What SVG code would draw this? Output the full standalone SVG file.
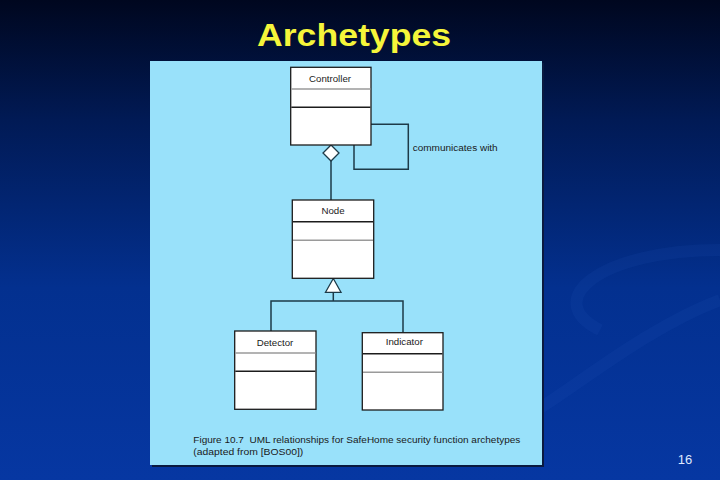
<svg xmlns="http://www.w3.org/2000/svg" width="720" height="480" viewBox="0 0 720 480">
<defs>
<linearGradient id="bg" x1="0" y1="0" x2="0" y2="1">
<stop offset="0" stop-color="#00071f"/>
<stop offset="0.25" stop-color="#011a55"/>
<stop offset="0.6" stop-color="#03308f"/>
<stop offset="1" stop-color="#0637a2"/>
</linearGradient>
<style>
.box{fill:#ffffff;stroke:#1c1c1c;stroke-width:1.3}
.dg{stroke:#9a9a9a;stroke-width:1.6}
.dk{stroke:#1c1c1c;stroke-width:1.6}
.lbl{font-family:"Liberation Sans",Arial,sans-serif;font-size:9.7px;fill:#1a1a1a;text-anchor:middle}
.con{fill:none;stroke:#1d3a48;stroke-width:1.5}
.cap{font-family:"Liberation Sans",Arial,sans-serif;font-size:9.5px;fill:#1a1a1a}
</style>
</defs>
<rect x="0" y="0" width="720" height="480" fill="url(#bg)"/>
<g fill="none" stroke="#2a58c0" stroke-opacity="0.12" stroke-width="12">
<path d="M720 250 C 600 250 540 300 600 330"/>
<path d="M720 300 C 640 330 560 400 520 420"/>
</g>
<text x="354" y="46" font-family="'Liberation Sans',Arial,sans-serif" font-weight="bold" font-size="32" fill="#f5f53a" text-anchor="middle" textLength="194" lengthAdjust="spacingAndGlyphs">Archetypes</text>
<rect x="152" y="63" width="392" height="404" fill="#0a1a40"/>
<rect x="150" y="61" width="392" height="404" fill="#99e1fa"/>
<g id="connectors">
<path class="con" d="M371 124.3 H408.3 V169.3 H354 V145"/>
<path d="M331 145 L339 153 L331 161 L323 153 Z" fill="#ffffff" stroke="#1d3a48" stroke-width="1.3"/>
<path class="con" d="M331 161 V200"/>
<path d="M333.3 278.5 L341 292.3 L325.5 292.3 Z" fill="#ffffff" stroke="#1d3a48" stroke-width="1.3"/>
<path class="con" d="M333.3 292.3 V301 M271 331 V301 H403 V332.7"/>
<text x="412.7" y="150.5" font-family="'Liberation Sans',Arial,sans-serif" font-size="9.7" fill="#1a1a1a" textLength="85" lengthAdjust="spacingAndGlyphs">communicates with</text>
</g>
<g id="controller">
<rect class="box" x="290.7" y="67.3" width="80.3" height="77.7"/>
<line class="dg" x1="291.3" y1="89" x2="370.4" y2="89"/>
<line class="dk" x1="291.3" y1="107.3" x2="370.4" y2="107.3"/>
<text class="lbl" x="330" y="82">Controller</text>
</g>
<g id="node">
<rect class="box" x="292.3" y="200" width="81.4" height="78.3"/>
<line class="dk" x1="293" y1="221.7" x2="373" y2="221.7"/>
<line class="dg" x1="293" y1="240.3" x2="373" y2="240.3"/>
<text class="lbl" x="333" y="213.5">Node</text>
</g>
<g id="detector">
<rect class="box" x="234.7" y="331" width="81.3" height="78.3"/>
<line class="dg" x1="235.3" y1="353" x2="315.4" y2="353"/>
<line class="dk" x1="235.3" y1="371.3" x2="315.4" y2="371.3"/>
<text class="lbl" x="275" y="345.5">Detector</text>
</g>
<g id="indicator">
<rect class="box" x="362.3" y="332.7" width="80.7" height="77.3"/>
<line class="dk" x1="363" y1="353.7" x2="442.4" y2="353.7"/>
<line class="dg" x1="363" y1="372.3" x2="442.4" y2="372.3"/>
<text class="lbl" x="404.3" y="345">Indicator</text>
</g>
<text class="cap" x="193.3" y="443" textLength="327" lengthAdjust="spacingAndGlyphs">Figure 10.7&#160;&#160;UML relationships for SafeHome security function archetypes</text>
<text class="cap" x="193.3" y="455" textLength="110" lengthAdjust="spacingAndGlyphs">(adapted from [BOS00])</text>
<text x="685" y="464" font-family="'Liberation Sans',Arial,sans-serif" font-size="13" fill="#dfe8ff" text-anchor="middle">16</text>
</svg>
